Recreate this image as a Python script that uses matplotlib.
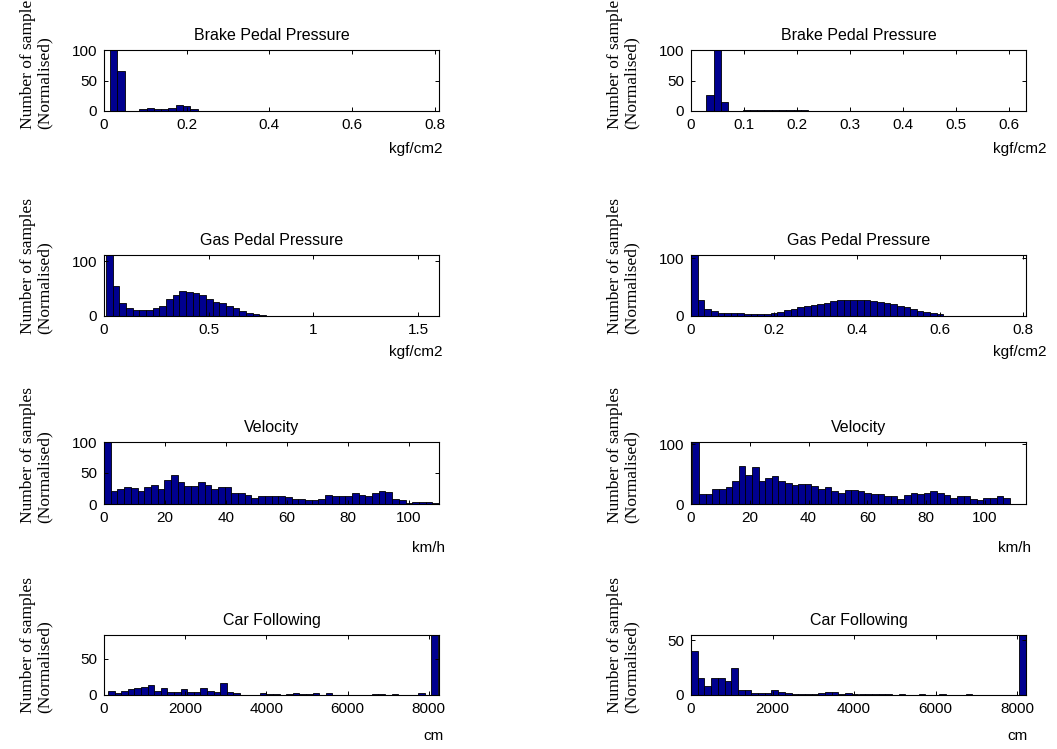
import matplotlib
matplotlib.use("Agg")
import matplotlib.pyplot as plt
import numpy as np

plt.rcParams.update({
    "font.family": "sans-serif",
    "font.sans-serif": ["Liberation Sans", "DejaVu Sans"],
    "font.size": 11,
    "axes.linewidth": 0.8,
})

W, H = 1057, 749
BAR_COLOR = "#00008f"

# ---- histogram data (normalised sample counts per bin) ----
brake_a_range = (0.0145, 0.81)
brake_a = [100, 65, 0.5, 0.5, 4, 5, 2.5, 2.5, 5.5, 10, 8, 3, 0.5, 0.5,
           0.5, 0.5, 0.5, 0.5, 0.5, 0.5, 0.5, 0.5, 0.5, 0.5, 0.5, 0.5,
           0.5, 0.5, 0.5, 0.5, 0, 0.5, 0.5, 0, 0.5, 0.5, 0, 0.5, 0,
           0.5, 0.5, 0.5, 0, 0.5, 0.5]

brake_b_range = (0.029, 0.632)
brake_b = [27, 100, 14, 0.5, 0.5, 2, 2, 2, 2, 2, 2, 2, 2, 2,
           0.5, 0.5, 0.5, 0.5, 0.5, 0.5, 0.5, 0.5, 0.5, 0.5, 0.5,
           0.5, 0.5, 0.5, 0.5, 0.5, 0.5, 0.5, 0.5, 0.5, 0.5, 0.5,
           0, 0, 0.5, 0, 0.5, 0, 0.5, 0.5]

gas_a_range = (0.01, 1.6)
gas_a = [115, 54, 24, 14, 11, 11, 11, 14, 19, 31, 38, 46, 44, 41, 39,
         31, 26, 24, 19, 14, 10, 6, 4, 1, 0.5, 0.5, 0.5, 0.5, 0.5, 0.5,
         0.5, 0.5, 0.5, 0.5, 0.5, 0.5, 0.5, 0, 0.5, 0, 0, 0, 0, 0, 0,
         0, 0, 0.5, 0.5, 0.5]

gas_b_range = (0.0, 0.8)
gas_b = [110, 28, 13, 9, 6, 6, 6, 6, 3.5, 3.5, 3.5, 3.5, 6, 7.5, 10,
         12.7, 15, 17, 19, 21, 23, 25.5, 27, 28, 28, 28, 28, 26, 24, 22,
         20, 17, 15, 12, 9, 7.5, 5.8, 3.5, 0, 0, 0, 0, 0, 0, 0, 0, 0, 0,
         0, 0]

vel_a_range = (0.0, 110.0)
vel_a = [100, 21, 24, 28, 26.5, 21, 28, 31, 25, 38, 47, 35, 29, 29, 36,
         30, 25, 28, 28, 17, 17, 15, 10, 13, 13, 13, 13, 11, 8, 8, 6, 6,
         8, 15, 13, 13, 13, 17, 15, 13, 17, 21, 19, 8, 6, 2, 4, 4, 4, 2]

vel_b_range = (0.5, 113.0)
vel_b = [110, 16, 16, 25, 25, 28, 38, 64, 49, 62, 38, 43, 47, 38, 36,
         32, 33.5, 33.5, 31, 25, 28, 21, 19, 24, 24, 21, 19, 17, 17, 13,
         13, 8, 15, 19, 17, 19, 21, 19, 15, 10, 13, 13, 8, 6, 10, 10, 13,
         10, 0.5, 0.5]

car_a_range = (100.0, 8222.0)
car_a = [6, 3, 5.5, 8, 10, 11.5, 14, 6, 10, 4, 4, 8, 4, 4, 10, 6, 4, 16,
         4, 2.3, 0.5, 0, 0.5, 2.8, 1, 1, 0.5, 1, 2.8, 1, 1, 2.8, 0.5, 2.8,
         0, 0, 0.5, 0, 0, 0.5, 1, 1, 0.5, 1, 0, 0.5, 0.5, 2.8, 0, 90]

car_b_range = (0.0, 8220.0)
car_b = [40, 16, 8, 16, 16, 13, 25, 5, 5, 2, 2, 1.5, 5, 3, 2, 1, 0.5,
         0.5, 0.5, 2, 3, 3, 1, 2, 0.5, 1, 0.5, 0.5, 1, 0.5, 0, 0.5, 0, 0,
         0.5, 0, 0, 0.5, 0, 0, 0, 0.5, 0, 0, 0, 0, 0, 0, 0, 60]

titles = ["Brake Pedal Pressure", "Gas Pedal Pressure", "Velocity",
          "Car Following"]
units = ["kgf/cm2", "kgf/cm2", "km/h", "cm"]

# (counts, bin range, xlim, xticks, ylim, yticks) per panel, rows x cols
panels = [
    [(brake_a, brake_a_range, 0.81, [0, 0.2, 0.4, 0.6, 0.8], 100, [0, 50, 100]),
     (brake_b, brake_b_range, 0.632, [0, 0.1, 0.2, 0.3, 0.4, 0.5, 0.6], 100, [0, 50, 100])],
    [(gas_a, gas_a_range, 1.6, [0, 0.5, 1, 1.5], 111, [0, 100]),
     (gas_b, gas_b_range, 0.807, [0, 0.2, 0.4, 0.6, 0.8], 106, [0, 100])],
    [(vel_a, vel_a_range, 110, [0, 20, 40, 60, 80, 100], 100, [0, 50, 100]),
     (vel_b, vel_b_range, 114, [0, 20, 40, 60, 80, 100], 104, [0, 100])],
    [(car_a, car_a_range, 8250, [0, 2000, 4000, 6000, 8000], 83, [0, 50]),
     (car_b, car_b_range, 8220, [0, 2000, 4000, 6000, 8000], 55, [0, 50])],
]

# axes boxes in pixels (top, bottom) per row and (left, right) per column
row_px = [(50, 111), (255, 316), (442, 504), (635, 695)]
col_px = [(104, 439), (691, 1026)]
unit_y = [-0.50, -0.48, -0.60, -0.56]
unit_x = [[0.93, 0.93, 0.97, 0.985], [0.98, 0.98, 0.965, 0.975]]


def fmt_tick(v):
    return f"{v:g}"


fig = plt.figure(figsize=(W / 100, H / 100), dpi=100, facecolor="white")

for r, row in enumerate(panels):
    top, bot = row_px[r]
    for c, (counts, rng, xmax, xt, ymax, yt) in enumerate(row):
        left, right = col_px[c]
        ax = fig.add_axes([left / W, 1 - bot / H, (right - left) / W,
                           (bot - top) / H])
        edges = np.linspace(rng[0], rng[1], len(counts) + 1)
        ax.bar(edges[:-1], counts, width=np.diff(edges), align="edge",
               color=BAR_COLOR, edgecolor="black", linewidth=0.6)
        ax.set_xlim(0, xmax)
        ax.set_ylim(0, ymax)
        ax.set_xticks(xt)
        ax.set_xticklabels([fmt_tick(v) for v in xt])
        ax.set_yticks(yt)
        ax.tick_params(direction="in", length=3, width=0.7, top=True,
                       right=True, labelsize=11, pad=5)
        ax.set_title(titles[r], fontsize=11.5, pad=7)
        ax.set_ylabel("Number of samples\n(Normalised)",
                      family=["Liberation Serif", "DejaVu Serif"],
                      fontsize=12.5, ha="left", va="bottom",
                      multialignment="left", linespacing=1.1)
        ax.yaxis.set_label_coords(-0.152, -0.30)
        ax.set_xlabel(units[r], fontsize=11, ha="center")
        ax.xaxis.set_label_coords(unit_x[c][r], unit_y[r])

fig.savefig("out.png", dpi=100, facecolor="white")
